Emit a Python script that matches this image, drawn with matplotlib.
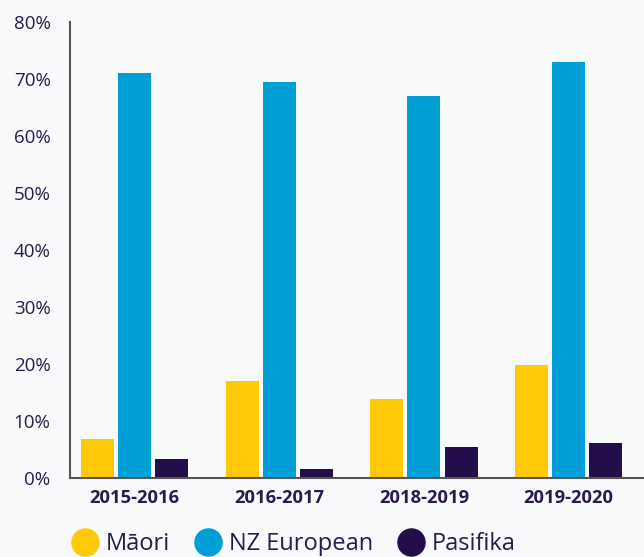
import numpy as np
import matplotlib.pyplot as plt
from matplotlib.lines import Line2D

plt.rcParams['font.family'] = ['Open Sans', 'DejaVu Sans']

years = ["2015-2016", "2016-2017", "2018-2019", "2019-2020"]
maori = [6.9, 17.1, 13.9, 19.9]
nz_european = [71.1, 69.5, 67.1, 73.0]
pasifika = [3.4, 1.6, 5.5, 6.2]

series = ["Māori", "NZ European", "Pasifika"]
colors = ["#FFC907", "#009FD7", "#230D4A"]
text_col = "#2A1A4E"

fig = plt.figure(figsize=(6.44, 5.57), dpi=100)
fig.patch.set_facecolor("#F8FAFC")
ax = fig.add_axes([70/644, 78.7/557, 1 - 70/644, (478.3 - 22)/557])
ax.set_facecolor("none")

x = np.arange(len(years))
w = 0.228
off = 0.256
for i, (vals, c) in enumerate(zip([maori, nz_european, pasifika], colors)):
    ax.bar(x + (i - 1) * off, vals, width=w, color=c, zorder=2)

ax.set_ylim(0, 80)
ax.set_xlim(-0.445, 3.52)
ax.set_yticks(range(0, 81, 10))
ax.set_yticklabels([f"{v}%" for v in range(0, 81, 10)])
ax.set_xticks(x)
ax.set_xticklabels(years, fontweight="bold")
ax.tick_params(axis="y", length=0, pad=14, labelsize=13.5, labelcolor=text_col)
ax.tick_params(axis="x", length=0, pad=8, labelsize=13.2, labelcolor=text_col)
for s in ["top", "right"]:
    ax.spines[s].set_visible(False)
for s in ["left", "bottom"]:
    ax.spines[s].set_color("#555555")
    ax.spines[s].set_linewidth(1.5)
    ax.spines[s].set_zorder(3)

handles = [Line2D([], [], marker="o", linestyle="none", markersize=19.5,
                  markerfacecolor=c, markeredgecolor=c) for c in colors]
leg = fig.legend(handles, series, loc="center left", ncol=3,
                 bbox_to_anchor=(62/644, 1 - 544/557), frameon=False,
                 fontsize=17, handletextpad=0.3, columnspacing=1.05,
                 handlelength=1.15, borderaxespad=0)
for t in leg.get_texts():
    t.set_color(text_col)

fig.savefig("out.png", dpi=100, facecolor=fig.get_facecolor())
